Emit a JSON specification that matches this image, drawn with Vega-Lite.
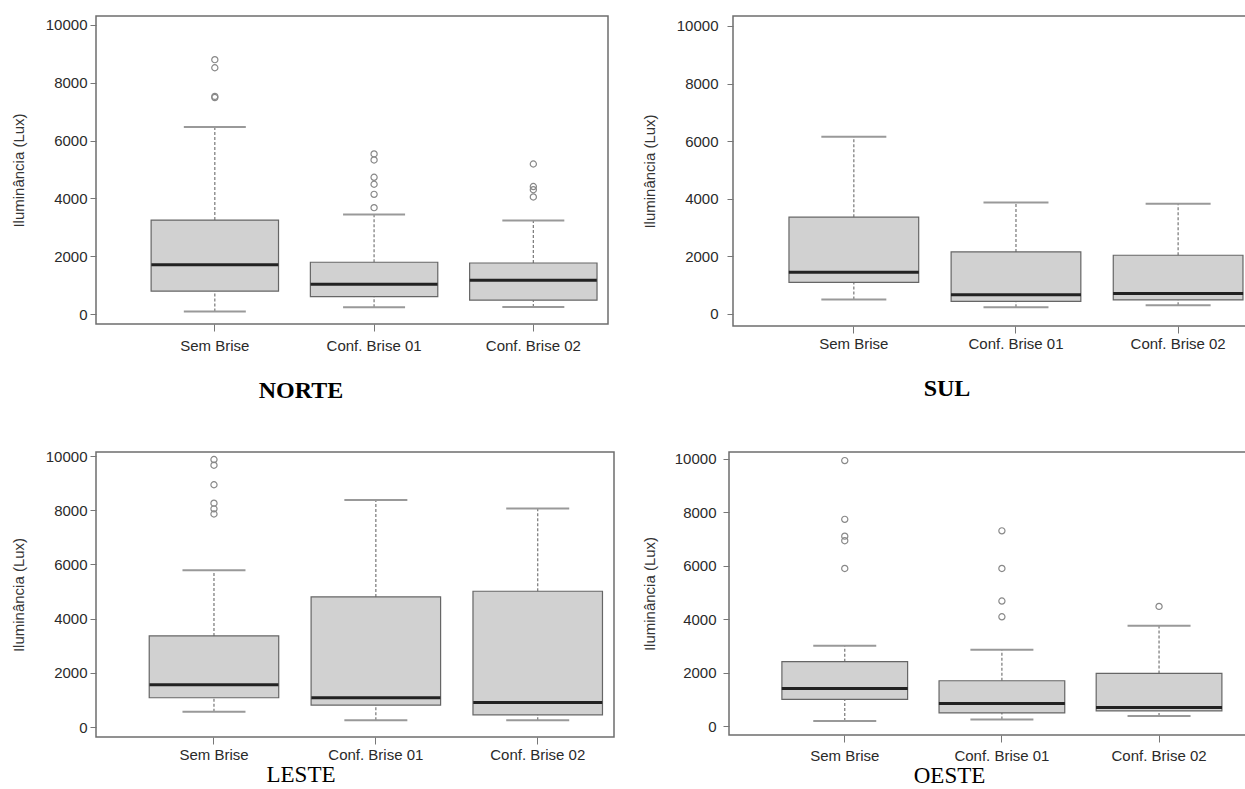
{
  "$schema": "https://vega.github.io/schema/vega-lite/v6.json",
  "background": "white",
  "padding": {"left": 10, "top": 15, "right": 0, "bottom": 0},
  "datasets": {
    "stats": [
      {"panel": "NORTE", "group": "Sem Brise", "lo": 90, "q1": 790, "med": 1700, "q3": 3250, "hi": 6470},
      {"panel": "NORTE", "group": "Conf. Brise 01", "lo": 235, "q1": 600, "med": 1030, "q3": 1790, "hi": 3440},
      {"panel": "NORTE", "group": "Conf. Brise 02", "lo": 245, "q1": 480, "med": 1170, "q3": 1765, "hi": 3235},
      {"panel": "SUL", "group": "Sem Brise", "lo": 500, "q1": 1100, "med": 1450, "q3": 3360, "hi": 6150},
      {"panel": "SUL", "group": "Conf. Brise 01", "lo": 235, "q1": 440, "med": 670, "q3": 2155, "hi": 3870},
      {"panel": "SUL", "group": "Conf. Brise 02", "lo": 300, "q1": 490, "med": 710, "q3": 2040, "hi": 3825},
      {"panel": "LESTE", "group": "Sem Brise", "lo": 560, "q1": 1080, "med": 1555, "q3": 3360, "hi": 5785},
      {"panel": "LESTE", "group": "Conf. Brise 01", "lo": 250, "q1": 810, "med": 1080, "q3": 4800, "hi": 8380},
      {"panel": "LESTE", "group": "Conf. Brise 02", "lo": 250, "q1": 450, "med": 900, "q3": 5010, "hi": 8060},
      {"panel": "OESTE", "group": "Sem Brise", "lo": 190, "q1": 1000, "med": 1405, "q3": 2410, "hi": 3010},
      {"panel": "OESTE", "group": "Conf. Brise 01", "lo": 240, "q1": 490, "med": 840, "q3": 1695, "hi": 2860},
      {"panel": "OESTE", "group": "Conf. Brise 02", "lo": 375, "q1": 565, "med": 690, "q3": 1970, "hi": 3750}
    ],
    "outliers": [
      {"panel": "NORTE", "group": "Sem Brise", "value": 8800},
      {"panel": "NORTE", "group": "Sem Brise", "value": 8520},
      {"panel": "NORTE", "group": "Sem Brise", "value": 7530},
      {"panel": "NORTE", "group": "Sem Brise", "value": 7490},
      {"panel": "NORTE", "group": "Conf. Brise 01", "value": 5540},
      {"panel": "NORTE", "group": "Conf. Brise 01", "value": 5330},
      {"panel": "NORTE", "group": "Conf. Brise 01", "value": 4730},
      {"panel": "NORTE", "group": "Conf. Brise 01", "value": 4490},
      {"panel": "NORTE", "group": "Conf. Brise 01", "value": 4140},
      {"panel": "NORTE", "group": "Conf. Brise 01", "value": 3680},
      {"panel": "NORTE", "group": "Conf. Brise 02", "value": 5190},
      {"panel": "NORTE", "group": "Conf. Brise 02", "value": 4410},
      {"panel": "NORTE", "group": "Conf. Brise 02", "value": 4300},
      {"panel": "NORTE", "group": "Conf. Brise 02", "value": 4050},
      {"panel": "LESTE", "group": "Sem Brise", "value": 9870},
      {"panel": "LESTE", "group": "Sem Brise", "value": 9660},
      {"panel": "LESTE", "group": "Sem Brise", "value": 8940},
      {"panel": "LESTE", "group": "Sem Brise", "value": 8260},
      {"panel": "LESTE", "group": "Sem Brise", "value": 8050},
      {"panel": "LESTE", "group": "Sem Brise", "value": 7860},
      {"panel": "OESTE", "group": "Sem Brise", "value": 9940},
      {"panel": "OESTE", "group": "Sem Brise", "value": 7740},
      {"panel": "OESTE", "group": "Sem Brise", "value": 7110},
      {"panel": "OESTE", "group": "Sem Brise", "value": 6940},
      {"panel": "OESTE", "group": "Sem Brise", "value": 5900},
      {"panel": "OESTE", "group": "Conf. Brise 01", "value": 7310},
      {"panel": "OESTE", "group": "Conf. Brise 01", "value": 5900},
      {"panel": "OESTE", "group": "Conf. Brise 01", "value": 4680},
      {"panel": "OESTE", "group": "Conf. Brise 01", "value": 4090},
      {"panel": "OESTE", "group": "Conf. Brise 02", "value": 4480}
    ]
  },
  "spacing": 44,
  "vconcat": [
    {
      "spacing": 32,
      "hconcat": [
        {
          "width": 512, "height": 308,
          "title": {"text": "NORTE", "orient": "bottom", "anchor": "middle", "font": "Liberation Serif", "fontSize": 24, "fontWeight": "bold", "color": "#000", "offset": 26, "dx": -51},
          "encoding": {"x": {"field": "group", "type": "nominal", "sort": ["Sem Brise", "Conf. Brise 01", "Conf. Brise 02"], "title": null, "scale": {"type": "band", "paddingInner": 0.2, "paddingOuter": 0.2075, "align": 0.834}, "axis": {"labelPadding": 7}}},
          "layer": [
            {"data": {"name": "stats"}, "transform": [{"filter": "datum.panel === 'NORTE'"}], "mark": {"type": "rule", "strokeDash": [3, 2], "color": "#777", "strokeWidth": 1.2},
             "encoding": {"y": {"field": "q3", "type": "quantitative", "title": "Iluminância (Lux)", "scale": {"domain": [-346, 10311], "nice": false, "zero": false}, "axis": {"values": [0, 2000, 4000, 6000, 8000, 10000], "format": "d"}}, "y2": {"field": "hi"}}},
            {"data": {"name": "stats"}, "transform": [{"filter": "datum.panel === 'NORTE'"}], "mark": {"type": "rule", "strokeDash": [3, 2], "color": "#777", "strokeWidth": 1.2},
             "encoding": {"y": {"field": "lo", "type": "quantitative", "title": "Iluminância (Lux)", "scale": {"domain": [-346, 10311], "nice": false, "zero": false}, "axis": {"values": [0, 2000, 4000, 6000, 8000, 10000], "format": "d"}}, "y2": {"field": "q1"}}},
            {"data": {"name": "stats"}, "transform": [{"filter": "datum.panel === 'NORTE'"}], "mark": {"type": "bar", "fill": "#d1d1d1", "stroke": "#666", "strokeWidth": 1.2, "width": {"band": 1}},
             "encoding": {"y": {"field": "q1", "type": "quantitative", "title": "Iluminância (Lux)", "scale": {"domain": [-346, 10311], "nice": false, "zero": false}, "axis": {"values": [0, 2000, 4000, 6000, 8000, 10000], "format": "d"}}, "y2": {"field": "q3"}}},
            {"data": {"name": "stats"}, "transform": [{"filter": "datum.panel === 'NORTE'"}], "mark": {"type": "tick", "color": "#999", "thickness": 2, "size": 62, "opacity": 1},
             "encoding": {"y": {"field": "hi", "type": "quantitative", "title": "Iluminância (Lux)", "scale": {"domain": [-346, 10311], "nice": false, "zero": false}, "axis": {"values": [0, 2000, 4000, 6000, 8000, 10000], "format": "d"}}}},
            {"data": {"name": "stats"}, "transform": [{"filter": "datum.panel === 'NORTE'"}], "mark": {"type": "tick", "color": "#999", "thickness": 2, "size": 62, "opacity": 1},
             "encoding": {"y": {"field": "lo", "type": "quantitative", "title": "Iluminância (Lux)", "scale": {"domain": [-346, 10311], "nice": false, "zero": false}, "axis": {"values": [0, 2000, 4000, 6000, 8000, 10000], "format": "d"}}}},
            {"data": {"name": "stats"}, "transform": [{"filter": "datum.panel === 'NORTE'"}], "mark": {"type": "tick", "color": "#222", "thickness": 3, "size": 127, "opacity": 1},
             "encoding": {"y": {"field": "med", "type": "quantitative", "title": "Iluminância (Lux)", "scale": {"domain": [-346, 10311], "nice": false, "zero": false}, "axis": {"values": [0, 2000, 4000, 6000, 8000, 10000], "format": "d"}}}},
            {"data": {"name": "outliers"}, "transform": [{"filter": "datum.panel === 'NORTE'"}], "mark": {"type": "point", "shape": "circle", "filled": false, "color": "#888", "strokeWidth": 1.2, "size": 38, "opacity": 1},
             "encoding": {"y": {"field": "value", "type": "quantitative", "title": "Iluminância (Lux)", "scale": {"domain": [-346, 10311], "nice": false, "zero": false}, "axis": {"values": [0, 2000, 4000, 6000, 8000, 10000], "format": "d"}}}}
          ]
        },
        {
          "width": 514, "height": 310,
          "title": {"text": "SUL", "orient": "bottom", "anchor": "middle", "font": "Liberation Serif", "fontSize": 24, "fontWeight": "bold", "color": "#000", "offset": 26, "dx": -43},
          "encoding": {"x": {"field": "group", "type": "nominal", "sort": ["Sem Brise", "Conf. Brise 01", "Conf. Brise 02"], "title": null, "scale": {"type": "band", "paddingInner": 0.2, "paddingOuter": 0.185, "align": 0.933}, "axis": {"labelPadding": 3}}},
          "layer": [
            {"data": {"name": "stats"}, "transform": [{"filter": "datum.panel === 'SUL'"}], "mark": {"type": "rule", "strokeDash": [3, 2], "color": "#777", "strokeWidth": 1.2},
             "encoding": {"y": {"field": "q3", "type": "quantitative", "title": "Iluminância (Lux)", "scale": {"domain": [-417, 10347], "nice": false, "zero": false}, "axis": {"values": [0, 2000, 4000, 6000, 8000, 10000], "format": "d", "labelPadding": 9}}, "y2": {"field": "hi"}}},
            {"data": {"name": "stats"}, "transform": [{"filter": "datum.panel === 'SUL'"}], "mark": {"type": "rule", "strokeDash": [3, 2], "color": "#777", "strokeWidth": 1.2},
             "encoding": {"y": {"field": "lo", "type": "quantitative", "title": "Iluminância (Lux)", "scale": {"domain": [-417, 10347], "nice": false, "zero": false}, "axis": {"values": [0, 2000, 4000, 6000, 8000, 10000], "format": "d", "labelPadding": 9}}, "y2": {"field": "q1"}}},
            {"data": {"name": "stats"}, "transform": [{"filter": "datum.panel === 'SUL'"}], "mark": {"type": "bar", "fill": "#d1d1d1", "stroke": "#666", "strokeWidth": 1.2, "width": {"band": 1}},
             "encoding": {"y": {"field": "q1", "type": "quantitative", "title": "Iluminância (Lux)", "scale": {"domain": [-417, 10347], "nice": false, "zero": false}, "axis": {"values": [0, 2000, 4000, 6000, 8000, 10000], "format": "d", "labelPadding": 9}}, "y2": {"field": "q3"}}},
            {"data": {"name": "stats"}, "transform": [{"filter": "datum.panel === 'SUL'"}], "mark": {"type": "tick", "color": "#999", "thickness": 2, "size": 65, "opacity": 1},
             "encoding": {"y": {"field": "hi", "type": "quantitative", "title": "Iluminância (Lux)", "scale": {"domain": [-417, 10347], "nice": false, "zero": false}, "axis": {"values": [0, 2000, 4000, 6000, 8000, 10000], "format": "d", "labelPadding": 9}}}},
            {"data": {"name": "stats"}, "transform": [{"filter": "datum.panel === 'SUL'"}], "mark": {"type": "tick", "color": "#999", "thickness": 2, "size": 65, "opacity": 1},
             "encoding": {"y": {"field": "lo", "type": "quantitative", "title": "Iluminância (Lux)", "scale": {"domain": [-417, 10347], "nice": false, "zero": false}, "axis": {"values": [0, 2000, 4000, 6000, 8000, 10000], "format": "d", "labelPadding": 9}}}},
            {"data": {"name": "stats"}, "transform": [{"filter": "datum.panel === 'SUL'"}], "mark": {"type": "tick", "color": "#222", "thickness": 3, "size": 130, "opacity": 1},
             "encoding": {"y": {"field": "med", "type": "quantitative", "title": "Iluminância (Lux)", "scale": {"domain": [-417, 10347], "nice": false, "zero": false}, "axis": {"values": [0, 2000, 4000, 6000, 8000, 10000], "format": "d", "labelPadding": 9}}}}
          ]
        }
      ]
    },
    {
      "spacing": 26,
      "hconcat": [
        {
          "width": 518, "height": 285,
          "title": {"text": "LESTE", "orient": "bottom", "anchor": "middle", "font": "Liberation Serif", "fontSize": 23, "fontWeight": "normal", "color": "#000", "offset": 2, "dx": -54},
          "encoding": {"x": {"field": "group", "type": "nominal", "sort": ["Sem Brise", "Conf. Brise 01", "Conf. Brise 02"], "title": null, "scale": {"type": "band", "paddingInner": 0.2, "paddingOuter": 0.2, "align": 0.822}, "axis": {"labelPadding": 3}}},
          "layer": [
            {"data": {"name": "stats"}, "transform": [{"filter": "datum.panel === 'LESTE'"}], "mark": {"type": "rule", "strokeDash": [3, 2], "color": "#777", "strokeWidth": 1.2},
             "encoding": {"y": {"field": "q3", "type": "quantitative", "title": "Iluminância (Lux)", "scale": {"domain": [-369, 10148], "nice": false, "zero": false}, "axis": {"values": [0, 2000, 4000, 6000, 8000, 10000], "format": "d"}}, "y2": {"field": "hi"}}},
            {"data": {"name": "stats"}, "transform": [{"filter": "datum.panel === 'LESTE'"}], "mark": {"type": "rule", "strokeDash": [3, 2], "color": "#777", "strokeWidth": 1.2},
             "encoding": {"y": {"field": "lo", "type": "quantitative", "title": "Iluminância (Lux)", "scale": {"domain": [-369, 10148], "nice": false, "zero": false}, "axis": {"values": [0, 2000, 4000, 6000, 8000, 10000], "format": "d"}}, "y2": {"field": "q1"}}},
            {"data": {"name": "stats"}, "transform": [{"filter": "datum.panel === 'LESTE'"}], "mark": {"type": "bar", "fill": "#d1d1d1", "stroke": "#666", "strokeWidth": 1.2, "width": {"band": 1}},
             "encoding": {"y": {"field": "q1", "type": "quantitative", "title": "Iluminância (Lux)", "scale": {"domain": [-369, 10148], "nice": false, "zero": false}, "axis": {"values": [0, 2000, 4000, 6000, 8000, 10000], "format": "d"}}, "y2": {"field": "q3"}}},
            {"data": {"name": "stats"}, "transform": [{"filter": "datum.panel === 'LESTE'"}], "mark": {"type": "tick", "color": "#999", "thickness": 2, "size": 63, "opacity": 1},
             "encoding": {"y": {"field": "hi", "type": "quantitative", "title": "Iluminância (Lux)", "scale": {"domain": [-369, 10148], "nice": false, "zero": false}, "axis": {"values": [0, 2000, 4000, 6000, 8000, 10000], "format": "d"}}}},
            {"data": {"name": "stats"}, "transform": [{"filter": "datum.panel === 'LESTE'"}], "mark": {"type": "tick", "color": "#999", "thickness": 2, "size": 63, "opacity": 1},
             "encoding": {"y": {"field": "lo", "type": "quantitative", "title": "Iluminância (Lux)", "scale": {"domain": [-369, 10148], "nice": false, "zero": false}, "axis": {"values": [0, 2000, 4000, 6000, 8000, 10000], "format": "d"}}}},
            {"data": {"name": "stats"}, "transform": [{"filter": "datum.panel === 'LESTE'"}], "mark": {"type": "tick", "color": "#222", "thickness": 3, "size": 129, "opacity": 1},
             "encoding": {"y": {"field": "med", "type": "quantitative", "title": "Iluminância (Lux)", "scale": {"domain": [-369, 10148], "nice": false, "zero": false}, "axis": {"values": [0, 2000, 4000, 6000, 8000, 10000], "format": "d"}}}},
            {"data": {"name": "outliers"}, "transform": [{"filter": "datum.panel === 'LESTE'"}], "mark": {"type": "point", "shape": "circle", "filled": false, "color": "#888", "strokeWidth": 1.2, "size": 38, "opacity": 1},
             "encoding": {"y": {"field": "value", "type": "quantitative", "title": "Iluminância (Lux)", "scale": {"domain": [-369, 10148], "nice": false, "zero": false}, "axis": {"values": [0, 2000, 4000, 6000, 8000, 10000], "format": "d"}}}}
          ]
        },
        {
          "width": 517, "height": 283,
          "title": {"text": "OESTE", "orient": "bottom", "anchor": "middle", "font": "Liberation Serif", "fontSize": 23, "fontWeight": "normal", "color": "#000", "offset": 2, "dx": -38},
          "encoding": {"x": {"field": "group", "type": "nominal", "sort": ["Sem Brise", "Conf. Brise 01", "Conf. Brise 02"], "title": null, "scale": {"type": "band", "paddingInner": 0.2, "paddingOuter": 0.245, "align": 0.687}, "axis": {"labelPadding": 6}}},
          "layer": [
            {"data": {"name": "stats"}, "transform": [{"filter": "datum.panel === 'OESTE'"}], "mark": {"type": "rule", "strokeDash": [3, 2], "color": "#777", "strokeWidth": 1.2},
             "encoding": {"y": {"field": "q3", "type": "quantitative", "title": "Iluminância (Lux)", "scale": {"domain": [-337, 10262], "nice": false, "zero": false}, "axis": {"values": [0, 2000, 4000, 6000, 8000, 10000], "format": "d", "labelPadding": 7, "titlePadding": 17}}, "y2": {"field": "hi"}}},
            {"data": {"name": "stats"}, "transform": [{"filter": "datum.panel === 'OESTE'"}], "mark": {"type": "rule", "strokeDash": [3, 2], "color": "#777", "strokeWidth": 1.2},
             "encoding": {"y": {"field": "lo", "type": "quantitative", "title": "Iluminância (Lux)", "scale": {"domain": [-337, 10262], "nice": false, "zero": false}, "axis": {"values": [0, 2000, 4000, 6000, 8000, 10000], "format": "d", "labelPadding": 7, "titlePadding": 17}}, "y2": {"field": "q1"}}},
            {"data": {"name": "stats"}, "transform": [{"filter": "datum.panel === 'OESTE'"}], "mark": {"type": "bar", "fill": "#d1d1d1", "stroke": "#666", "strokeWidth": 1.2, "width": {"band": 1}},
             "encoding": {"y": {"field": "q1", "type": "quantitative", "title": "Iluminância (Lux)", "scale": {"domain": [-337, 10262], "nice": false, "zero": false}, "axis": {"values": [0, 2000, 4000, 6000, 8000, 10000], "format": "d", "labelPadding": 7, "titlePadding": 17}}, "y2": {"field": "q3"}}},
            {"data": {"name": "stats"}, "transform": [{"filter": "datum.panel === 'OESTE'"}], "mark": {"type": "tick", "color": "#999", "thickness": 2, "size": 63, "opacity": 1},
             "encoding": {"y": {"field": "hi", "type": "quantitative", "title": "Iluminância (Lux)", "scale": {"domain": [-337, 10262], "nice": false, "zero": false}, "axis": {"values": [0, 2000, 4000, 6000, 8000, 10000], "format": "d", "labelPadding": 7, "titlePadding": 17}}}},
            {"data": {"name": "stats"}, "transform": [{"filter": "datum.panel === 'OESTE'"}], "mark": {"type": "tick", "color": "#999", "thickness": 2, "size": 63, "opacity": 1},
             "encoding": {"y": {"field": "lo", "type": "quantitative", "title": "Iluminância (Lux)", "scale": {"domain": [-337, 10262], "nice": false, "zero": false}, "axis": {"values": [0, 2000, 4000, 6000, 8000, 10000], "format": "d", "labelPadding": 7, "titlePadding": 17}}}},
            {"data": {"name": "stats"}, "transform": [{"filter": "datum.panel === 'OESTE'"}], "mark": {"type": "tick", "color": "#222", "thickness": 3, "size": 126, "opacity": 1},
             "encoding": {"y": {"field": "med", "type": "quantitative", "title": "Iluminância (Lux)", "scale": {"domain": [-337, 10262], "nice": false, "zero": false}, "axis": {"values": [0, 2000, 4000, 6000, 8000, 10000], "format": "d", "labelPadding": 7, "titlePadding": 17}}}},
            {"data": {"name": "outliers"}, "transform": [{"filter": "datum.panel === 'OESTE'"}], "mark": {"type": "point", "shape": "circle", "filled": false, "color": "#888", "strokeWidth": 1.2, "size": 38, "opacity": 1},
             "encoding": {"y": {"field": "value", "type": "quantitative", "title": "Iluminância (Lux)", "scale": {"domain": [-337, 10262], "nice": false, "zero": false}, "axis": {"values": [0, 2000, 4000, 6000, 8000, 10000], "format": "d", "labelPadding": 7, "titlePadding": 17}}}}
          ]
        }
      ]
    }
  ],
  "config": {
    "view": {"stroke": "#6e6e6e", "strokeWidth": 1.5},
    "axis": {"domain": false, "grid": false, "labelFont": "Liberation Sans", "labelFontSize": 15, "labelColor": "#2a2a2a", "tickColor": "#777", "titleFont": "Liberation Sans", "titleFontSize": 15, "titleFontWeight": "normal", "titleColor": "#333"},
    "axisY": {"tickSize": 6, "labelPadding": 3, "titlePadding": 19},
    "axisX": {"tickSize": 7, "labelAngle": 0}
  }
}
